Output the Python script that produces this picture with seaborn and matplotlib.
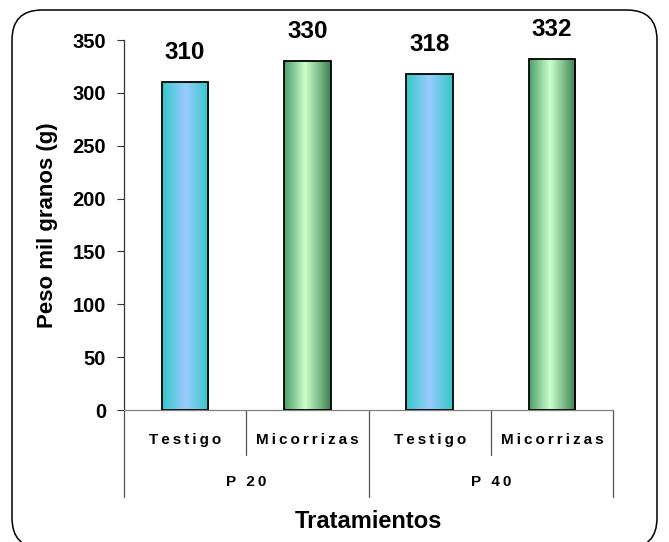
import numpy as np
import pandas as pd
import matplotlib
matplotlib.use("Agg")
import matplotlib.pyplot as plt
import seaborn as sns
from matplotlib.patches import FancyBboxPatch
from matplotlib.colors import to_rgb
import matplotlib.transforms as mtransforms

# Data
dosis = ["P 20", "P 20", "P 40", "P 40"]
tratamiento = ["Testigo", "Micorrizas", "Testigo", "Micorrizas"]
peso = [310, 330, 318, 332]
yticks = [0, 50, 100, 150, 200, 250, 300, 350]

df = pd.DataFrame({
    "grupo": [f"{d} {t}" for d, t in zip(dosis, tratamiento)],
    "dosis": dosis,
    "tratamiento": tratamiento,
    "peso": peso,
})

sns.set_theme(style="white")
plt.rcParams["font.family"] = ["Liberation Sans", "DejaVu Sans"]
plt.rcParams["text.color"] = "black"
plt.rcParams["axes.labelcolor"] = "black"
plt.rcParams["ytick.color"] = "black"

W, H = 669, 542
fig = plt.figure(figsize=(W / 100, H / 100), dpi=100)

# rounded chart frame, drawn in pixel units on a background axes
bg = fig.add_axes([0, 0, 1, 1], zorder=-1)
bg.set_xlim(0, W)
bg.set_ylim(0, H)
bg.axis("off")
bg.add_patch(FancyBboxPatch((12, H - 548), 657 - 12, 548 - 10,
                            boxstyle="round,pad=0,rounding_size=30",
                            fill=False, edgecolor="black", linewidth=1.1,
                            clip_on=False))

ax = fig.add_axes([124 / W, 1 - 410 / H, (613 - 124) / W, 370 / H])
ax.patch.set_alpha(0)

sns.barplot(data=df, x="grupo", y="peso", order=list(df["grupo"]),
            color="white", width=0.38, edgecolor="black", linewidth=1.3,
            ax=ax, zorder=3)

# horizontal gradient fills for each bar
grad_stops = {
    "Testigo": [(0.0, "#33c8c8"), (0.5, "#99ccff"), (1.0, "#33c8c8")],
    "Micorrizas": [(0.0, "#4a9e68"), (0.45, "#ccffcc"), (1.0, "#3a8052")],
}


def gradient_row(stops, n=128):
    pos = np.linspace(0, 1, n)
    sp = [s[0] for s in stops]
    cols = np.array([to_rgb(s[1]) for s in stops])
    img = np.stack([np.interp(pos, sp, cols[:, k]) for k in range(3)], axis=-1)
    return img[np.newaxis, :, :]


for patch, trat in zip(ax.patches, df["tratamiento"]):
    x0, y0 = patch.get_x(), patch.get_y()
    w, h = patch.get_width(), patch.get_height()
    im = ax.imshow(gradient_row(grad_stops[trat]), extent=[x0, x0 + w, y0, y0 + h],
                   aspect="auto", zorder=2, interpolation="bilinear")
    im.set_clip_path(patch)
    patch.set_facecolor("none")

ax.set_xlim(-0.5, 3.5)
ax.set_ylim(0, 350)
ax.set_yticks(yticks)
ax.set_yticklabels([str(v) for v in yticks], fontsize=14.5, fontweight="bold")
ax.tick_params(axis="y", direction="out", length=5, width=0.8, color="#333333",
               pad=8, left=True)
ax.set_xticks([])
ax.set_xlabel("")
ax.set_ylabel("Peso mil granos (g)", fontsize=16, fontweight="bold", labelpad=10)

for s in ["top", "right"]:
    ax.spines[s].set_visible(False)
ax.spines["left"].set_color("#333333")
ax.spines["left"].set_linewidth(0.9)
ax.spines["bottom"].set_color("#808080")
ax.spines["bottom"].set_linewidth(0.9)

# value labels
for i, v in enumerate(peso):
    ax.annotate(str(v), (i, v), xytext=(0, 13), textcoords="offset points",
                ha="center", va="bottom", fontsize=17.5, fontweight="bold")


def spaced(s):
    # widen letter spacing with thin spaces
    return "\u2009".join(s)


# two-level category axis
trans = mtransforms.blended_transform_factory(ax.transData, ax.transAxes)
for xb in [0.5, 2.5]:
    ax.plot([xb, xb], [0, -0.122], transform=trans, color="#555555", lw=0.9, clip_on=False)
for xb in [-0.5, 1.5, 3.5]:
    ax.plot([xb, xb], [0, -0.235], transform=trans, color="#555555", lw=0.9, clip_on=False)
for i, t in enumerate(tratamiento):
    ax.text(i, -0.081, spaced(t), transform=trans, ha="center", va="center",
            fontsize=11, fontweight="bold")
for cx, d in zip([0.5, 2.5], ["P 20", "P 40"]):
    ax.text(cx, -0.195, spaced(d), transform=trans, ha="center", va="center",
            fontsize=11, fontweight="bold")
ax.text(1.5, -0.30, "Tratamientos", transform=trans, ha="center", va="center",
        fontsize=17, fontweight="bold")

fig.savefig("out.png", dpi=100, facecolor="white")
